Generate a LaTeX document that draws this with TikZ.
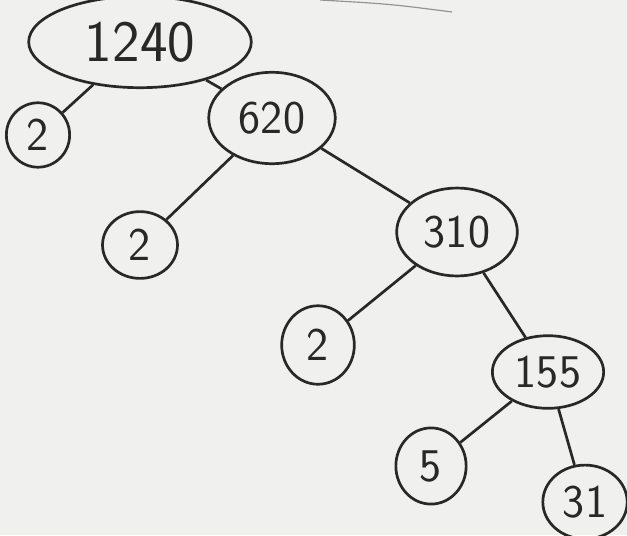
\documentclass[tikz,border=0pt]{standalone}
\usepackage{tikz}
\usetikzlibrary{shapes.geometric, positioning}
\definecolor{paper}{RGB}{240,240,238}
\definecolor{ink}{RGB}{40,40,40}

\begin{document}
\begin{tikzpicture}[x=0.03cm, y=-0.03cm, line width=2.3pt, draw=ink,
    factor/.style={draw=ink, ellipse, inner sep=0pt, text=ink, font=\sffamily\fontsize{40}{44}\selectfont},
    prime/.style={factor, minimum width=62, minimum height=60}]
    \fill[paper] (0,0) rectangle (627,535);
    \useasboundingbox (0,0) rectangle (627,535);
    \draw[ink!50, line width=1pt] (320,0) .. controls (390,4) .. (452,12);

    \node[factor, minimum width=190, minimum height=78, font=\sffamily\fontsize{50}{54}\selectfont] (n1240) at (140,42) {1240};
    \node[prime, minimum width=54, minimum height=55] (p1) at (38,135) {2};
    \node[factor, minimum width=108, minimum height=78] (n620) at (272,118) {620};
    \node[prime, minimum width=64, minimum height=57] (p2) at (140,245) {2};
    \node[factor, minimum width=103, minimum height=75] (n310) at (457,232) {310};
    \node[prime, minimum width=62, minimum height=67] (p3) at (318,345) {2};
    \node[factor, minimum width=95, minimum height=62] (n155) at (548,372) {155};
    \node[prime, minimum width=60, minimum height=65] (p4) at (431,466) {5};
    \node[prime, minimum width=72, minimum height=63] (p5) at (585,502) {31};

    \draw[ink] (n1240) -- (p1);
    \draw[ink] (n1240) -- (n620);
    \draw[ink] (n620) -- (p2);
    \draw[ink] (n620) -- (n310);
    \draw[ink] (n310) -- (p3);
    \draw[ink] (n310) -- (n155);
    \draw[ink] (n155) -- (p4);
    \draw[ink] (n155) -- (p5);
\end{tikzpicture}
\end{document}
